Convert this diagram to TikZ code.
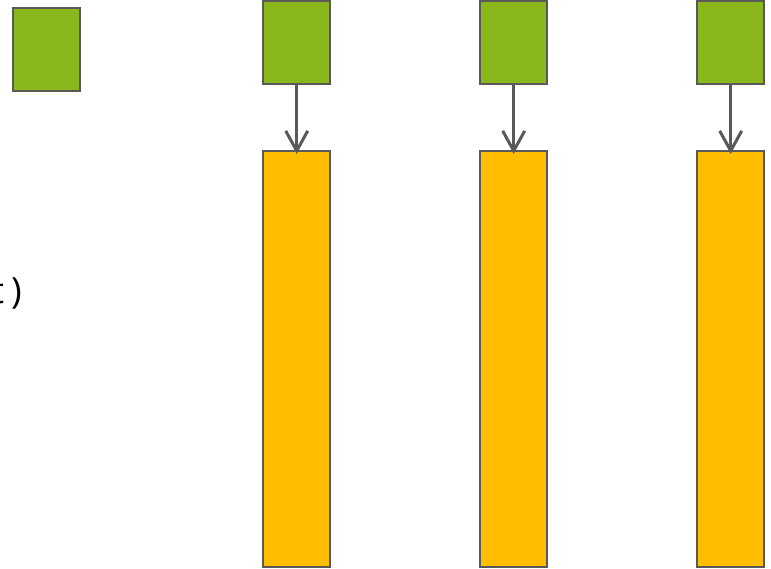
\documentclass[tikz,border=0pt]{standalone}
\usepackage{fontspec}
\setmainfont{Open Sans}
\usetikzlibrary{arrows.meta}
\definecolor{boxgreen}{HTML}{8AB81C}
\definecolor{boxorange}{HTML}{FFBF00}
\definecolor{edge}{HTML}{595959}
\begin{document}
\begin{tikzpicture}[x=1pt,y=-1pt,
  gbox/.style={draw=edge,line width=2.4pt,fill=boxgreen},
  obox/.style={draw=edge,line width=2.4pt,fill=boxorange},
  conn/.style={draw=edge,line width=3pt,-{Straight Barb[length=20pt,width=22pt,line width=3pt]}}]
\useasboundingbox (0,0) rectangle (771,569);
\node[anchor=base east,font=\fontsize{36}{42}\selectfont,inner sep=0pt] (lbl) at (22,304) {t\hspace{7pt})};
\draw[gbox] (13,8) rectangle (80,91);
\foreach \i/\x in {1/263,2/480,3/697}{
  \draw[gbox] (\x,1) rectangle ++(67,83);
  \node[inner sep=0pt,minimum width=67pt,minimum height=83pt,anchor=north west] (g\i) at (\x,1) {};
  \draw[obox] (\x,151) rectangle ++(67,416);
  \node[inner sep=0pt,minimum width=67pt,minimum height=416pt,anchor=north west] (o\i) at (\x,151) {};
  \draw[conn] (g\i.south) -- ([yshift=-3pt]o\i.north);
}
\end{tikzpicture}
\end{document}
